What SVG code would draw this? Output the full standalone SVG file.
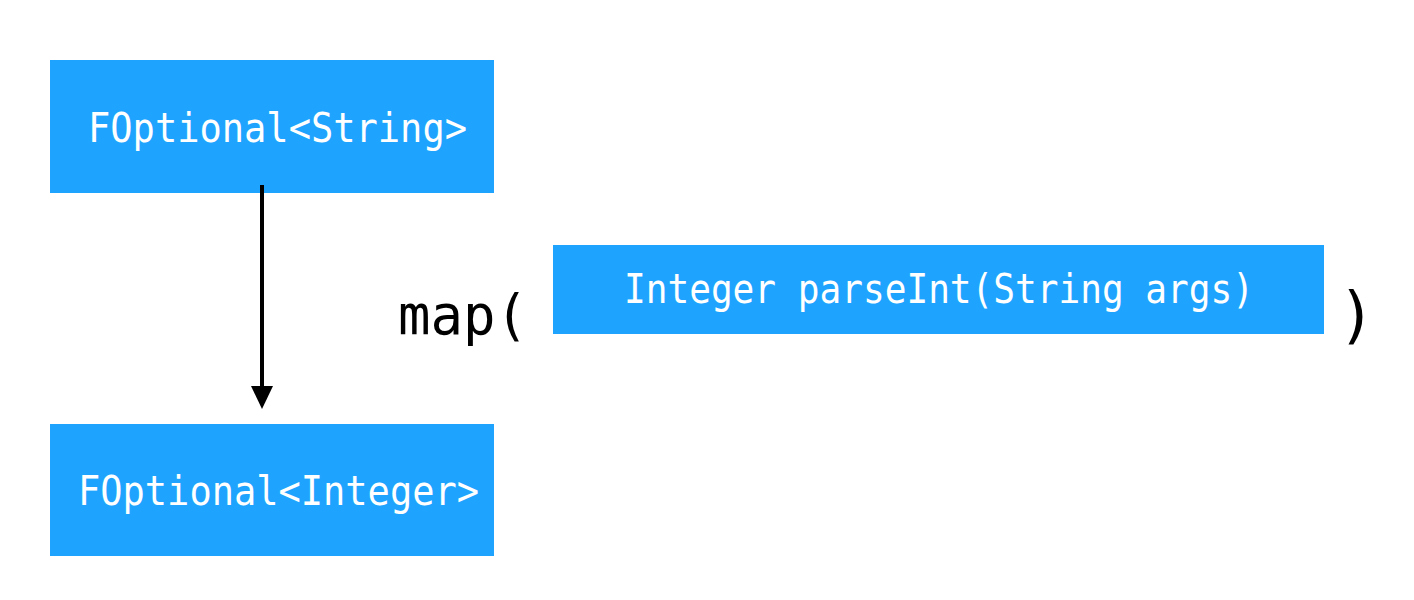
<svg xmlns="http://www.w3.org/2000/svg" width="1414" height="600" viewBox="0 0 1414 600">
<defs>
<style>
.box{fill:#1EA4FF}
.lbl{fill:#ffffff;font-family:"DejaVu Sans Mono","Liberation Mono",monospace;font-size:40px}
.big{fill:#000000;font-family:"DejaVu Sans Mono","Liberation Mono",monospace;font-size:56px}
</style>
<marker id="ah" markerWidth="23" markerHeight="22" refX="0" refY="11" orient="auto" markerUnits="userSpaceOnUse" viewBox="0 0 23 22">
<path d="M0,0 L23,11 L0,22 Z" fill="#000"/>
</marker>
</defs>
<rect width="1414" height="600" fill="#ffffff"/>
<g id="node-string">
<rect class="box" x="50" y="60" width="444" height="133"/>
<text class="lbl" x="88" y="142" textLength="379" lengthAdjust="spacingAndGlyphs">FOptional&lt;String&gt;</text>
</g>
<g id="node-integer">
<rect class="box" x="50" y="424" width="444" height="132"/>
<text class="lbl" x="78" y="505" textLength="401" lengthAdjust="spacingAndGlyphs">FOptional&lt;Integer&gt;</text>
</g>
<g id="node-parseint">
<text class="big" x="398" y="334" textLength="130" lengthAdjust="spacingAndGlyphs">map(</text>
<rect class="box" x="553" y="245" width="771" height="89"/>
<text class="lbl" x="624" y="303" textLength="630" lengthAdjust="spacingAndGlyphs">Integer parseInt(String args)</text>
<text class="big" x="1338" y="336" style="font-size:62px">)</text>
</g>
<g id="connectors">
<line x1="262" y1="185" x2="262" y2="386" stroke="#000" stroke-width="4" marker-end="url(#ah)"/>
</g>
</svg>
